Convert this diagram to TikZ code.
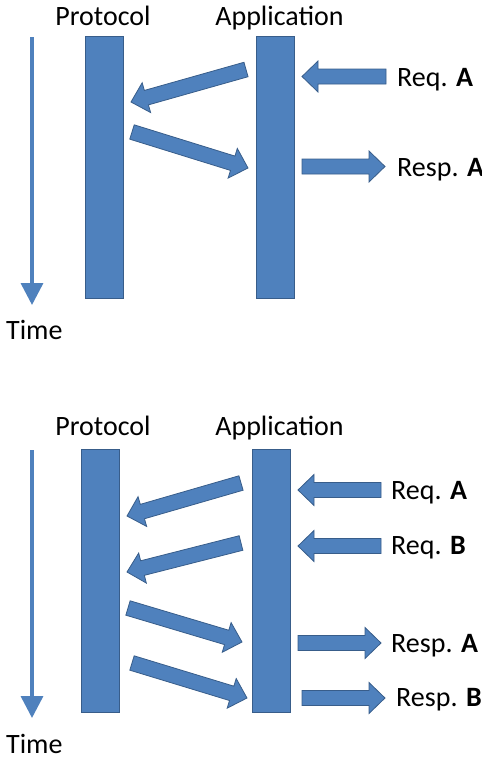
\documentclass[tikz,border=0pt]{standalone}
\usepackage{fontspec}
\setmainfont{Carlito}
\usetikzlibrary{calc,arrows.meta}
\definecolor{bfill}{HTML}{4F81BD}
\definecolor{bline}{HTML}{385D8A}
\tikzset{
  bar/.style={draw=bline,fill=bfill,line width=0.8pt,inner sep=0,rectangle},
  lbl/.style={inner sep=0,font=\fontsize{28}{34}\selectfont},
  barrowstyle/.style={draw=bline,fill=bfill,line width=0.8pt,line join=miter},
  timearrow/.style={draw=bfill,line width=3.5pt,-{Triangle[width=22pt,length=22pt]}}
}
% #1 tail coordinate, #2 tip coordinate
\newcommand\blockarr[2]{%
  \coordinate (hb) at ($(#2)!16pt!(#1)$);
  \draw[barrowstyle] ($(#1)!7.5pt!90:(#2)$) -- ($(hb)!7.5pt!-90:(#1)$) -- ($(hb)!15.5pt!-90:(#1)$) -- (#2) -- ($(hb)!15.5pt!90:(#1)$) -- ($(hb)!7.5pt!90:(#1)$) -- ($(#1)!7.5pt!-90:(#2)$) -- cycle;
}
\begin{document}
\begin{tikzpicture}[x=1pt,y=-1pt]
\useasboundingbox (0,0) rectangle (482,758);
% ---------- top panel ----------
\node[lbl,anchor=base] (prot1) at (103,25) {Protocol};
\node[lbl,anchor=base] (app1) at (279.5,25) {Application};
\node[bar,minimum width=38pt,minimum height=262pt] (pbar1) at (104,167) {};
\node[bar,minimum width=38pt,minimum height=262pt] (abar1) at (275,167) {};
\coordinate (t1s) at (32,37);
\coordinate (t1e) at (32,305);
\draw[timearrow] (t1s) -- (t1e);
\node[lbl,anchor=base west] (time1) at (6,339) {Time};
\node[lbl,anchor=base west] (reqa1) at (397,86) {Req. \textbf{A}};
\node[lbl,anchor=base west] (respa1) at (397,176) {Resp. \textbf{A}};
\coordinate (r1t) at (386,76.5); \coordinate (r1h) at (302,76.5);
\blockarr{r1t}{r1h}
\coordinate (s1t) at (302,166.5); \coordinate (s1h) at (385,166.5);
\blockarr{s1t}{s1h}
\coordinate (d1t) at (246,69.5); \coordinate (d1h) at (131,102);
\blockarr{d1t}{d1h}
\coordinate (d2t) at (132,132); \coordinate (d2h) at (248,168);
\blockarr{d2t}{d2h}
% ---------- bottom panel ----------
\node[lbl,anchor=base] (prot2) at (103,435) {Protocol};
\node[lbl,anchor=base] (app2) at (279.5,435) {Application};
\node[bar,minimum width=38pt,minimum height=263pt] (pbar2) at (100,580.5) {};
\node[bar,minimum width=38pt,minimum height=263pt] (abar2) at (271.5,580.5) {};
\coordinate (t2s) at (32,450);
\coordinate (t2e) at (32,718);
\draw[timearrow] (t2s) -- (t2e);
\node[lbl,anchor=base west] (time2) at (6,753) {Time};
\node[lbl,anchor=base west] (reqa2) at (391,499) {Req. \textbf{A}};
\node[lbl,anchor=base west] (reqb2) at (391,554) {Req. \textbf{B}};
\node[lbl,anchor=base west] (respa2) at (391,652) {Resp. \textbf{A}};
\node[lbl,anchor=base west] (respb2) at (396,706) {Resp. \textbf{B}};
\coordinate (ra2t) at (381,490); \coordinate (ra2h) at (298,490);
\blockarr{ra2t}{ra2h}
\coordinate (rb2t) at (381,546); \coordinate (rb2h) at (298,546);
\blockarr{rb2t}{rb2h}
\coordinate (sa2t) at (298,643); \coordinate (sa2h) at (381,643);
\blockarr{sa2t}{sa2h}
\coordinate (sb2t) at (302,698); \coordinate (sb2h) at (385,698);
\blockarr{sb2t}{sb2h}
\coordinate (e1t) at (241,483); \coordinate (e1h) at (127,516);
\blockarr{e1t}{e1h}
\coordinate (e2t) at (241,543); \coordinate (e2h) at (127,572);
\blockarr{e2t}{e2h}
\coordinate (e3t) at (128,608); \coordinate (e3h) at (242,642);
\blockarr{e3t}{e3h}
\coordinate (e4t) at (132,663); \coordinate (e4h) at (247,698);
\blockarr{e4t}{e4h}
\end{tikzpicture}
\end{document}
